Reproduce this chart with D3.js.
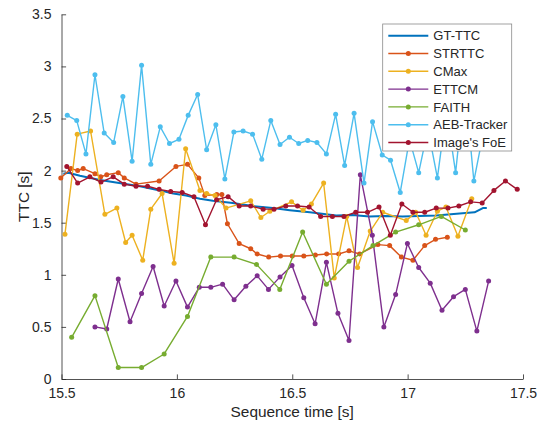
<!DOCTYPE html>
<html>
<head>
<meta charset="utf-8">
<script src="https://cdn.jsdelivr.net/npm/d3@7"></script>
<style>
body{margin:0;background:#fff;}
svg text{font-family:"Liberation Sans",Arial,sans-serif;fill:#262626;}
</style>
</head>
<body>
<svg id="map" width="543" height="425"></svg>
<script>
// series names, in legend order
var names = ['GT-TTC','STRTTC','CMax','ETTCM','FAITH','AEB-Tracker',"Image's FoE"]
var colors = ['#0072BD','#D95319','#EDB120','#7E2F8E','#77AC30','#4DBEEE','#A2142F']

var xTicks = [15.5,16,16.5,17,17.5]
var xTickLabels = ['15.5','16','16.5','17','17.5']
var yTicks = [0,0.5,1,1.5,2,2.5,3,3.5]
var yTickLabels = ['0','0.5','1','1.5','2','2.5','3','3.5']

var gtT = [15.508,15.53,15.58,15.667,15.75,15.84,15.926,15.984,16.04,16.10,16.156,16.242,16.329,16.416,16.489,16.576,16.69,16.76,16.835,16.9,16.978,17.05,17.124,17.238,17.29,17.326,17.343]
var gtV = [1.97,1.98,1.95,1.91,1.88,1.85,1.81,1.78,1.76,1.73,1.71,1.69,1.66,1.64,1.62,1.60,1.57,1.575,1.56,1.565,1.56,1.565,1.57,1.59,1.60,1.64,1.64]

var strT = [15.497,15.541,15.570,15.594,15.645,15.670,15.696,15.746,15.772,15.823,15.923,15.996,16.046,16.095,16.121,16.173,16.195,16.219,16.270,16.320,16.348,16.398,16.449,16.500,16.550,16.600,16.649,16.701,16.746,16.792,16.871,16.922,16.973,17.023,17.074,17.121,17.172]
var strV = [1.93,2.02,2.00,2.02,1.97,1.94,1.96,1.98,1.93,1.87,1.90,2.04,2.06,1.93,1.76,1.77,1.77,1.49,1.30,1.25,1.20,1.17,1.18,1.18,1.18,1.19,1.20,1.20,1.23,1.20,1.29,1.28,1.17,1.14,1.28,1.34,1.36]

var cmaxT = [15.515,15.568,15.626,15.688,15.740,15.778,15.806,15.852,15.887,15.936,15.988,16.038,16.100,16.129,16.165,16.213,16.320,16.364,16.403,16.497,16.547,16.583,16.636,16.682,16.736,16.783,16.838,16.892,16.994,17.035,17.080,17.129,17.166,17.218,17.278]
var cmaxV = [1.39,2.35,2.38,1.58,1.64,1.31,1.38,1.14,1.63,1.78,1.11,2.21,1.81,1.78,1.76,1.64,1.71,1.55,1.61,1.70,1.62,1.68,1.88,0.97,1.56,1.07,1.42,1.60,1.52,1.60,1.38,1.61,1.65,1.37,1.73]

var ettcmT = [15.645,15.696,15.746,15.797,15.847,15.897,15.945,15.996,16.046,16.097,16.147,16.198,16.248,16.299,16.348,16.397,16.447,16.499,16.550,16.599,16.648,16.698,16.746,16.795,16.847,16.897,16.948,16.999,17.048,17.098,17.149,17.199,17.250,17.300,17.351]
var ettcmV = [0.50,0.48,0.96,0.55,0.82,1.08,0.70,0.94,0.69,0.88,0.88,0.91,0.76,0.89,0.99,0.86,0.98,1.09,0.78,0.53,1.12,0.63,0.37,1.96,1.38,0.50,0.81,1.30,1.07,0.92,0.66,0.79,0.86,0.46,0.94]

var faithT = [15.544,15.645,15.746,15.847,15.945,16.046,16.147,16.248,16.345,16.446,16.545,16.648,16.746,16.850,16.948,17.048,17.146,17.250]
var faithV = [0.40,0.80,0.11,0.11,0.24,0.60,1.17,1.17,1.10,0.86,1.41,0.91,1.13,1.28,1.41,1.48,1.56,1.43]

var aebT = [15.525,15.566,15.606,15.645,15.685,15.726,15.766,15.806,15.847,15.887,15.928,15.968,16.009,16.049,16.090,16.129,16.169,16.208,16.247,16.287,16.328,16.368,16.407,16.447,16.488,16.528,16.567,16.607,16.648,16.688,16.727,16.768,16.811,16.848,16.890,16.926,16.968,17.008,17.048,17.088,17.129,17.168,17.208,17.248,17.287,17.327]
var aebV = [2.53,2.48,2.16,2.92,2.36,2.27,2.71,2.09,3.01,2.06,2.42,2.26,2.30,2.53,2.73,2.20,2.44,1.92,2.37,2.38,2.35,2.11,2.48,2.25,2.32,2.26,2.29,2.27,2.16,2.54,2.05,2.55,1.88,2.47,2.15,2.10,1.79,2.30,1.98,2.40,1.93,2.58,1.98,2.83,1.90,2.35]

var foeT = [15.523,15.570,15.623,15.671,15.724,15.772,15.823,15.873,15.923,15.973,16.023,16.074,16.124,16.172,16.222,16.270,16.320,16.374,16.421,16.472,16.523,16.573,16.623,16.674,16.724,16.775,16.826,16.876,16.925,16.975,17.023,17.074,17.124,17.175,17.222,17.273,17.323,17.374,17.424,17.475]
var foeV = [2.04,1.88,1.94,1.89,1.94,1.87,1.85,1.85,1.82,1.80,1.79,1.75,1.48,1.72,1.75,1.66,1.66,1.63,1.63,1.66,1.66,1.65,1.56,1.56,1.56,1.60,1.60,1.65,1.38,1.68,1.60,1.60,1.64,1.64,1.66,1.70,1.69,1.81,1.90,1.82]

var series = [
	{t:gtT, v:gtV, marker:false, width:2},
	{t:strT, v:strV, marker:true, width:1.4},
	{t:cmaxT, v:cmaxV, marker:true, width:1.4},
	{t:ettcmT, v:ettcmV, marker:true, width:1.4},
	{t:faithT, v:faithV, marker:true, width:1.4},
	{t:aebT, v:aebV, marker:true, width:1.4},
	{t:foeT, v:foeV, marker:true, width:1.4}
]

var map = d3.select('svg#map')
var axisColor = '#262626'

var x = d3.scaleLinear().domain([15.5,17.5]).range([61.5,523])
var y = d3.scaleLinear().domain([0,3.5]).range([379,14.3])

// axes (left + bottom only, ticks inside)
var xAxis = d3.axisBottom(x).tickValues(xTicks)
	.tickFormat((d,i) => xTickLabels[i]).tickSizeInner(-4.6).tickSizeOuter(0).tickPadding(9)
var yAxis = d3.axisLeft(y).tickValues(yTicks)
	.tickFormat((d,i) => yTickLabels[i]).tickSizeInner(-4.6).tickSizeOuter(0).tickPadding(10)

var gx = map.append('g').attr('transform','translate(0,379)').call(xAxis)
var gy = map.append('g').attr('transform','translate(61.5,0)').call(yAxis)
;[gx,gy].forEach(function(g){
	g.select('.domain').attr('stroke',axisColor).attr('stroke-width',0.8)
	g.selectAll('.tick line').attr('stroke',axisColor).attr('stroke-width',0.8)
	g.selectAll('.tick text').attr('fill',axisColor).style('font-size','14px')
		.style('font-family','"Liberation Sans",Arial,sans-serif')
})

map.append('text')
	.attr('x',292.2).attr('y',417)
	.attr('text-anchor','middle')
	.style('font-size','15.4px')
	.text('Sequence time [s]')

map.append('text')
	.attr('transform','translate(29,196.7) rotate(-90)')
	.attr('text-anchor','middle')
	.style('font-size','15.4px')
	.text('TTC [s]')

var line = d3.line().x(d => x(d[0])).y(d => y(d[1]))

series.forEach(function(s,i){
	var pts = s.t.map((t,j) => [t, s.v[j]])
	var g = map.append('g')
	g.append('path')
		.attr('d',line(pts))
		.attr('fill','none')
		.attr('stroke',colors[i])
		.attr('stroke-width',s.width)
		.attr('stroke-linejoin','round')
	if(s.marker){
		g.selectAll('circle')
		.data(pts)
		.enter()
		.append('circle')
		.attr('cx',d => x(d[0]))
		.attr('cy',d => y(d[1]))
		.attr('r',2.5)
		.attr('fill',colors[i])
	}
})

// legend
var leg = map.append('g').attr('transform','translate(382.7,24)')
leg.append('rect')
	.attr('width',129).attr('height',127)
	.attr('fill','#fff')
	.attr('stroke','#8a8a8a')
	.attr('stroke-width',0.8)

var rows = leg.selectAll('g.row')
	.data(names)
	.enter()
	.append('g')
	.attr('class','row')
	.attr('transform',(d,i) => 'translate(0,' + (11.7 + i*17.8) + ')')

rows.append('line')
	.attr('x1',5.6).attr('x2',45.6)
	.attr('stroke',(d,i) => colors[i])
	.attr('stroke-width',(d,i) => series[i].width)
rows.filter((d,i) => series[i].marker)
	.append('circle')
	.attr('cx',25.6).attr('r',2.5)
	.attr('fill',(d,i) => colors[names.indexOf(d)])
rows.append('text')
	.attr('x',50.6).attr('dy','0.36em')
	.style('font-size','13px')
	.text(d => d)
</script>
</body>
</html>
